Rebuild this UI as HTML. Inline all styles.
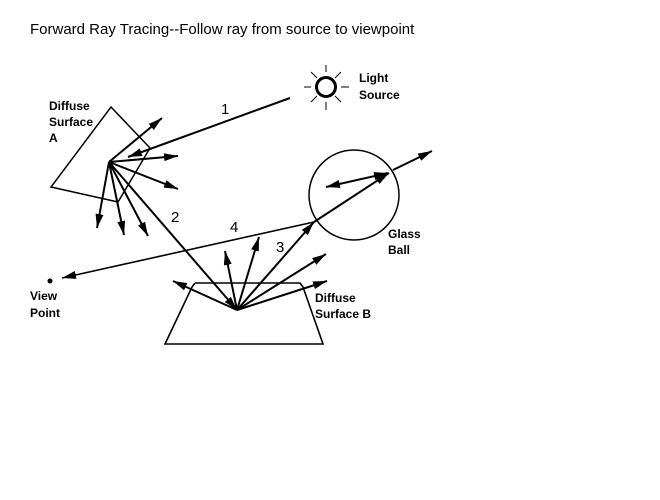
<!DOCTYPE html>
<html><head><style>
body{margin:0;background:#fff;width:660px;height:500px;overflow:hidden}
svg{display:block}
text{font-family:"Liberation Sans",Arial,sans-serif}
.b{font-size:12px;font-weight:bold}
.n{font-size:15px}
</style></head><body>
<svg width="660" height="500" viewBox="0 0 660 500">
<defs>
<marker id="a" viewBox="0 0 14 8" refX="14" refY="4" markerWidth="14" markerHeight="8" markerUnits="userSpaceOnUse" orient="auto-start-reverse"><path d="M0,0 L14,4 L0,8 z" fill="#000"/></marker>
</defs>
<text x="30" y="34" class="n" font-size="15">Forward Ray Tracing--Follow ray from source to viewpoint</text>
<g stroke="#000" fill="none" stroke-width="2">
<polyline points="150,148 111,107 51,187 118,202 150,148" stroke-width="1.5"/>
<circle cx="326" cy="87" r="9.5" stroke-width="3"/>
<g stroke-width="1">
<line x1="326" y1="65" x2="326" y2="72"/><line x1="326" y1="102" x2="326" y2="110"/>
<line x1="304" y1="87" x2="311" y2="87"/><line x1="341" y1="87" x2="349" y2="87"/>
<line x1="311" y1="72" x2="317" y2="78"/><line x1="341" y1="72" x2="335" y2="78"/>
<line x1="311" y1="102" x2="317" y2="96"/><line x1="341" y1="102" x2="335" y2="96"/>
</g>
<circle cx="354" cy="195" r="45" stroke-width="1.5"/>
<polyline points="195,283 192,287 165,344 323,344 303,287 300,283 195,283" stroke-width="1.6"/>
<line x1="290" y1="98" x2="128" y2="157" marker-end="url(#a)"/>
<line x1="109" y1="162" x2="162" y2="118" marker-end="url(#a)"/>
<line x1="109" y1="162" x2="178" y2="156" marker-end="url(#a)"/>
<line x1="109" y1="162" x2="178" y2="189" marker-end="url(#a)"/>
<line x1="109" y1="162" x2="97" y2="228" marker-end="url(#a)"/>
<line x1="109" y1="162" x2="124" y2="235" marker-end="url(#a)"/>
<line x1="109" y1="162" x2="148" y2="236" marker-end="url(#a)"/>
<line x1="109" y1="162" x2="237" y2="310" marker-end="url(#a)"/>
<line x1="237" y1="310" x2="173" y2="281" marker-end="url(#a)"/>
<line x1="237" y1="310" x2="225" y2="251" marker-end="url(#a)"/>
<line x1="237" y1="310" x2="259" y2="237" marker-end="url(#a)"/>
<line x1="237" y1="310" x2="314" y2="222" marker-end="url(#a)"/>
<line x1="237" y1="310" x2="326" y2="254" marker-end="url(#a)"/>
<line x1="237" y1="310" x2="327" y2="281" marker-end="url(#a)"/>
<line x1="314" y1="222" x2="62" y2="278" stroke-width="1.6" marker-end="url(#a)"/>
<line x1="314" y1="222" x2="389" y2="173" marker-end="url(#a)"/>
<line x1="326" y1="187" x2="388" y2="173" marker-start="url(#a)" marker-end="url(#a)"/>
<line x1="393" y1="170" x2="432" y2="151" marker-end="url(#a)"/>
</g>
<circle cx="50" cy="281" r="2.5" fill="#000"/>
<text x="49" y="110" class="b">Diffuse</text>
<text x="49" y="126" class="b">Surface</text>
<text x="49" y="142" class="b">A</text>
<text x="359" y="82" class="b">Light</text>
<text x="359" y="99" class="b">Source</text>
<text x="388" y="238" class="b">Glass</text>
<text x="388" y="254" class="b">Ball</text>
<text x="30" y="300" class="b">View</text>
<text x="30" y="317" class="b">Point</text>
<text x="315" y="302" class="b">Diffuse</text>
<text x="315" y="318" class="b">Surface B</text>
<text x="221" y="114" class="n">1</text>
<text x="171" y="222" class="n">2</text>
<text x="230" y="232" class="n">4</text>
<text x="276" y="252" class="n">3</text>
</svg>
</body></html>
